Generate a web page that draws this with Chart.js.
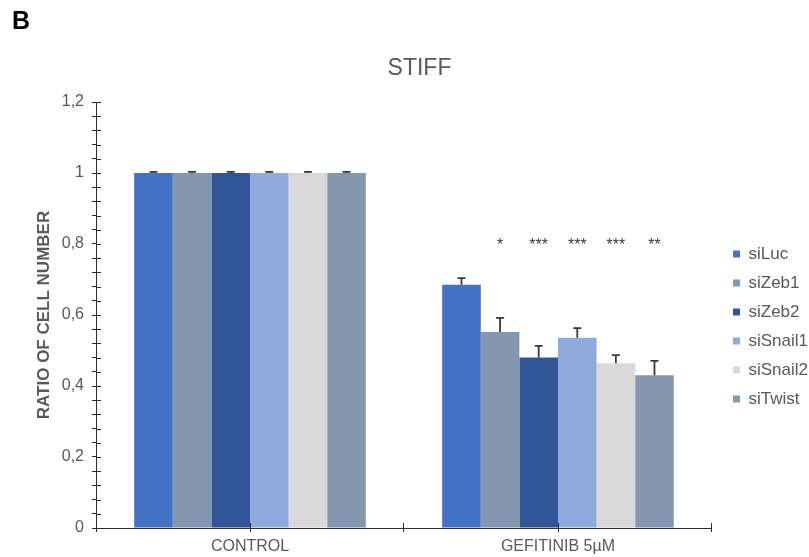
<!DOCTYPE html>
<html>
<head>
<meta charset="utf-8">
<script src="https://cdn.jsdelivr.net/npm/chart.js@4/dist/chart.umd.min.js"></script>
<style>
  html, body { margin: 0; padding: 0; background: #ffffff; }
  #wrap { width: 809px; height: 557px; }
</style>
</head>
<body>
<div id="wrap"><canvas id="c" width="809" height="557"></canvas></div>
<script>
// ---- data ----
const categories = ['CONTROL', 'GEFITINIB 5µM'];
const seriesNames = ['siLuc', 'siZeb1', 'siZeb2', 'siSnail1', 'siSnail2', 'siTwist'];
const siLuc    = [1.0, 0.685];
const siZeb1   = [1.0, 0.552];
const siZeb2   = [1.0, 0.480];
const siSnail1 = [1.0, 0.536];
const siSnail2 = [1.0, 0.464];
const siTwist  = [1.0, 0.430];
const siLucErr    = [0.003, 0.019];
const siZeb1Err   = [0.003, 0.040];
const siZeb2Err   = [0.003, 0.033];
const siSnail1Err = [0.003, 0.027];
const siSnail2Err = [0.003, 0.023];
const siTwistErr  = [0.003, 0.041];
const significanceGefitinib = ['', '*', '***', '***', '***', '**'];
const significanceLevel = 0.795;
const yTickLabels = ['0', '0,2', '0,4', '0,6', '0,8', '1', '1,2'];
const panelLetter = 'B';
const chartTitle = 'STIFF';
const yAxisTitle = 'RATIO OF CELL NUMBER';

// ---- styling ----
const seriesValues = [siLuc, siZeb1, siZeb2, siSnail1, siSnail2, siTwist];
const seriesErrors = [siLucErr, siZeb1Err, siZeb2Err, siSnail1Err, siSnail2Err, siTwistErr];
const seriesColors = ['#4472C4', '#8497B0', '#2F5597', '#8FAADC', '#D9D9D9', '#8497B0'];
const FONT = "'Liberation Sans', Arial, sans-serif";
const TEXT = '#595959';
const AXIS = '#2e2e2e';

const datasets = seriesNames.map((name, i) => ({
  label: name,
  data: seriesValues[i],
  errors: seriesErrors[i],
  backgroundColor: seriesColors[i],
  borderWidth: 0,
  categoryPercentage: 0.752,
  barPercentage: 1.0
}));

const panelLetterPlugin = {
  id: 'panelLetter',
  afterDraw(chart) {
    const ctx = chart.ctx;
    ctx.save();
    ctx.fillStyle = '#000000';
    ctx.font = 'bold 25px ' + FONT;
    ctx.textBaseline = 'middle';
    ctx.textAlign = 'left';
    ctx.fillText(panelLetter, 12, 22);
    ctx.restore();
  }
};

const legendNudge = {
  id: 'legendNudge',
  afterLayout(chart) {
    const lg = chart.legend;
    if (!lg) return;
    lg.left += 9; lg.right += 9;
    lg.top += 11.5; lg.bottom += 11.5;
  }
};

const axisTicksPlugin = {
  id: 'axisTicks',
  afterDraw(chart) {
    const ctx = chart.ctx;
    const xs = chart.scales.x, ys = chart.scales.y;
    ctx.save();
    ctx.strokeStyle = AXIS;
    ctx.lineWidth = 1;
    ctx.beginPath();
    // inward half of y ticks
    ys.ticks.forEach((t, i) => {
      const py = Math.round(ys.getPixelForTick(i)) + 0.5;
      ctx.moveTo(xs.left, py);
      ctx.lineTo(xs.left + 5, py);
    });
    // x ticks: inward half at boundaries, full crossing at category centers
    const n = categories.length;
    for (let i = 1; i <= n; i++) {
      const px = Math.round(xs.left + (xs.right - xs.left) * i / n) - 0.5;
      ctx.moveTo(px, ys.bottom);
      ctx.lineTo(px, ys.bottom - 5);
    }
    for (let i = 0; i < n; i++) {
      const px = Math.round(xs.getPixelForTick(i)) + 0.5;
      ctx.moveTo(px, ys.bottom - 5);
      ctx.lineTo(px, ys.bottom + 4);
    }
    ctx.stroke();
    ctx.restore();
  }
};

const errorBarsPlugin = {
  id: 'errorBars',
  afterDatasetsDraw(chart) {
    const ctx = chart.ctx;
    const ys = chart.scales.y;
    ctx.save();
    ctx.strokeStyle = '#3a3a3a';
    ctx.lineWidth = 1.8;
    chart.data.datasets.forEach((ds, di) => {
      const meta = chart.getDatasetMeta(di);
      meta.data.forEach((bar, j) => {
        const v = ds.data[j], e = ds.errors[j];
        const yTop = ys.getPixelForValue(v + e);
        ctx.beginPath();
        ctx.moveTo(bar.x, bar.y);
        ctx.lineTo(bar.x, yTop);
        ctx.moveTo(bar.x - 4, yTop);
        ctx.lineTo(bar.x + 4, yTop);
        ctx.stroke();
      });
    });
    // significance stars over the GEFITINIB group
    ctx.fillStyle = '#3a3a3a';
    ctx.font = '16px ' + FONT;
    ctx.textAlign = 'center';
    ctx.textBaseline = 'middle';
    chart.data.datasets.forEach((ds, di) => {
      const s = significanceGefitinib[di];
      if (!s) return;
      const bar = chart.getDatasetMeta(di).data[1];
      ctx.fillText(s, bar.x, ys.getPixelForValue(significanceLevel));
    });
    ctx.restore();
  }
};

new Chart(document.getElementById('c'), {
  type: 'bar',
  data: { labels: categories, datasets },
  plugins: [legendNudge, axisTicksPlugin, errorBarsPlugin, panelLetterPlugin],
  options: {
    responsive: false,
    animation: false,
    layout: { padding: { left: 30, right: 0, top: 0, bottom: 0 } },
    plugins: {
      title: {
        display: true,
        text: chartTitle,
        color: TEXT,
        font: { family: FONT, size: 23, weight: 'normal' },
        padding: { top: 54.7, bottom: 19.7 }
      },
      legend: {
        position: 'right',
        fullSize: false,
        align: 'center',
        labels: {
          color: TEXT,
          font: { family: FONT, size: 17 },
          boxWidth: 7,
          boxHeight: 7,
          padding: 12
        }
      },
      tooltip: { enabled: false }
    },
    scales: {
      x: {
        offset: true,
        border: { display: true, color: AXIS, width: 1 },
        grid: { display: true, offset: true, drawOnChartArea: false, drawTicks: true, tickLength: 4, color: AXIS, tickColor: AXIS },
        ticks: { color: TEXT, font: { family: FONT, size: 16 }, padding: 5, maxRotation: 0 },
        afterFit(scale) { scale.height = 29; }
      },
      y: {
        min: 0,
        max: 1.2,
        border: { display: true, color: AXIS, width: 1 },
        grid: { display: true, drawOnChartArea: false, drawTicks: true, tickLength: 4, color: AXIS, tickColor: AXIS },
        ticks: {
          stepSize: 0.04,
          autoSkip: false,
          color: TEXT,
          font: { family: FONT, size: 16 },
          padding: 8,
          callback(value) {
            const hund = Math.round(value * 100);
            if (hund % 20 !== 0) return '';
            return yTickLabels[hund / 20];
          }
        },
        title: {
          display: true,
          text: yAxisTitle,
          color: TEXT,
          font: { family: FONT, size: 17, weight: 'bold' },
          padding: { top: 4.3, bottom: 0 }
        },
        afterFit(scale) { scale.width = 66; }
      }
    }
  }
});
</script>
</body>
</html>
